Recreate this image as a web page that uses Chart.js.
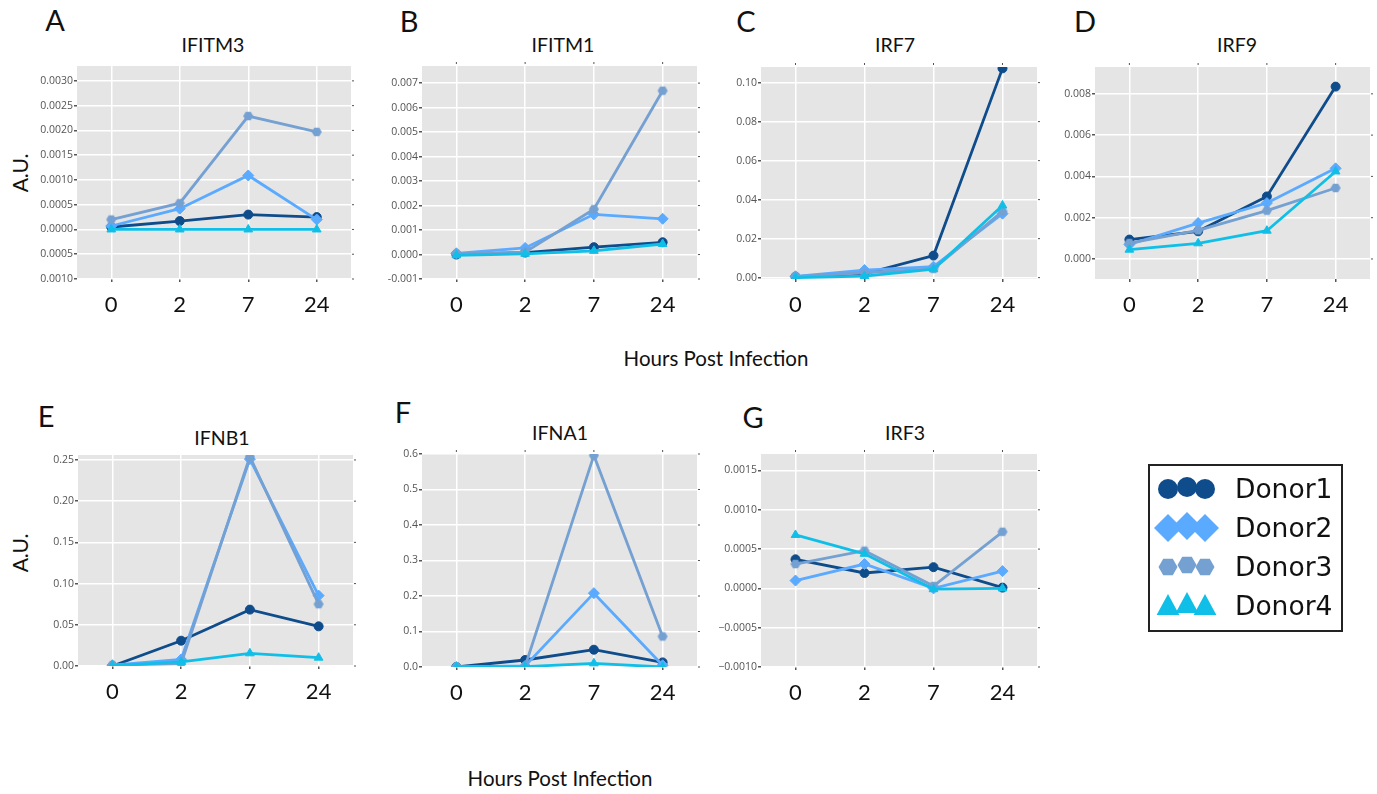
<!DOCTYPE html>
<html>
<head>
<meta charset="utf-8">
<script src="https://cdn.jsdelivr.net/npm/chart.js@4/dist/chart.umd.min.js"></script>
<style>
  body { margin: 0; background: #fff; width: 1377px; height: 794px; position: relative; overflow: hidden; font-family: Lato, "Open Sans", sans-serif; color: #111; }
  .t { position: absolute; white-space: nowrap; transform: translate(-50%, -50%); line-height: 1; }
  .letter { font-size: 29px; }
  .title { font-size: 19.5px; }
  .au { font-size: 21px; transform: translate(-50%, -50%) rotate(-90deg); }
  .xlab { font-size: 20.5px; }
  canvas.panel { position: absolute; }
  #legend { position: absolute; left: 1148px; top: 464px; width: 195px; height: 168px; box-sizing: border-box; border: 2px solid #222; }
  .leg { position: absolute; left: 1235px; font-family: "DejaVu Sans", sans-serif; font-size: 26.5px; transform: translateY(-50%); line-height: 1; }
</style>
</head>
<body>
<div class="t letter" style="left:55px;top:19px">A</div>
<div class="t letter" style="left:409px;top:20px">B</div>
<div class="t letter" style="left:746px;top:20px">C</div>
<div class="t letter" style="left:1085px;top:20px">D</div>
<div class="t letter" style="left:46px;top:415px">E</div>
<div class="t letter" style="left:403px;top:411px">F</div>
<div class="t letter" style="left:753px;top:416px">G</div>

<div class="t title" style="left:213px;top:45px">IFITM3</div>
<div class="t title" style="left:563px;top:45px">IFITM1</div>
<div class="t title" style="left:895px;top:45px">IRF7</div>
<div class="t title" style="left:1237px;top:45px">IRF9</div>
<div class="t title" style="left:222px;top:438px">IFNB1</div>
<div class="t title" style="left:560px;top:433px">IFNA1</div>
<div class="t title" style="left:905px;top:433px">IRF3</div>

<div class="t au" style="left:19px;top:173px">A.U.</div>
<div class="t au" style="left:19px;top:553px">A.U.</div>

<div class="t xlab" style="left:716px;top:358px">Hours Post Infection</div>
<div class="t xlab" style="left:560px;top:778px">Hours Post Infection</div>

<canvas id="pA" class="panel"></canvas>
<canvas id="pB" class="panel"></canvas>
<canvas id="pC" class="panel"></canvas>
<canvas id="pD" class="panel"></canvas>
<canvas id="pE" class="panel"></canvas>
<canvas id="pF" class="panel"></canvas>
<canvas id="pG" class="panel"></canvas>

<div id="legend"></div>
<canvas id="legMarks" style="position:absolute;left:1148px;top:464px" width="90" height="168"></canvas>
<div class="leg" style="top:489px">Donor1</div>
<div class="leg" style="top:528px">Donor2</div>
<div class="leg" style="top:567px">Donor3</div>
<div class="leg" style="top:606px">Donor4</div>

<script>
const hours = ["0", "2", "7", "24"];
const donors = ["Donor1", "Donor2", "Donor3", "Donor4"];
const donorColors = ["#0f4c8b", "#5aaaff", "#74a0d2", "#10bfe8"];

// one row per donor: values at 0, 2, 7, 24 h
const IFITM3 = [
  [0.00005, 0.00017, 0.0003, 0.00025],
  [0.00007, 0.00042, 0.00109, 0.0002],
  [0.0002, 0.00053, 0.00229, 0.00197],
  [0.0, 0.0, 0.0, 0.0],
];
const IFITM1 = [
  [0.0, 0.00008, 0.0003, 0.0005],
  [0.00005, 0.00027, 0.00164, 0.00146],
  [0.00003, 0.0001, 0.00185, 0.00669],
  [-0.00003, 0.00003, 0.00015, 0.00043],
];
const IRF7 = [
  [0.0005, 0.002, 0.0113, 0.1073],
  [0.0007, 0.0039, 0.0056, 0.0328],
  [0.0005, 0.0025, 0.0045, 0.034],
  [0.0, 0.0008, 0.0043, 0.037],
];
const IRF9 = [
  [0.00094, 0.00134, 0.00303, 0.00835],
  [0.0007, 0.00174, 0.00271, 0.00439],
  [0.00077, 0.00139, 0.00234, 0.00344],
  [0.00045, 0.00076, 0.00137, 0.00424],
];
const IFNB1 = [
  [0.0, 0.0307, 0.0684, 0.0481],
  [0.001, 0.008, 0.251, 0.0854],
  [0.001, 0.003, 0.254, 0.075],
  [0.0005, 0.005, 0.0154, 0.0101],
];
const IFNA1 = [
  [0.0, 0.0197, 0.0487, 0.013],
  [0.0, 0.003, 0.208, 0.005],
  [0.0, 0.002, 0.596, 0.086],
  [0.0, 0.001, 0.0103, 0.0],
];
const IRF3 = [
  [0.00037, 0.000196, 0.00027, 0.00001],
  [0.0001, 0.00031, 0.0, 0.00022],
  [0.00031, 0.00048, 0.00003, 0.00072],
  [0.00068, 0.00044, -0.00001, 0.0],
];

function hexagon(r, color) {
  const c = document.createElement("canvas");
  c.width = c.height = 2 * r + 2;
  const g = c.getContext("2d");
  g.fillStyle = color;
  g.beginPath();
  for (let k = 0; k < 6; k++) {
    const a = (Math.PI / 3) * k;
    g.lineTo(r + 1 + r * Math.cos(a), r + 1 + r * Math.sin(a));
  }
  g.closePath();
  g.fill();
  return c;
}

const pointStyles = ["circle", "rectRot", hexagon(5, donorColors[2]), "triangle"];
const pointRadii = [4.5, 5.5, 5, 5];

// grey plot background
const plotBg = {
  id: "plotBg",
  beforeDraw(chart) {
    const { ctx, chartArea: a } = chart;
    ctx.save();
    ctx.fillStyle = "#e5e5e5";
    ctx.fillRect(a.left, a.top, a.right - a.left, a.bottom - a.top);
    ctx.restore();
  },
};

// little tick marks on the right (and sometimes top) edge
const mirrorTicks = {
  id: "mirrorTicks",
  afterDraw(chart, args, opts) {
    const { ctx, chartArea: a, scales } = chart;
    ctx.save();
    ctx.strokeStyle = "#555";
    ctx.lineWidth = 1;
    scales.y.ticks.forEach((t) => {
      const py = scales.y.getPixelForValue(t.value);
      ctx.beginPath();
      ctx.moveTo(a.right + 1, py);
      ctx.lineTo(a.right + 3, py);
      ctx.stroke();
    });
    if (opts.top) {
      scales.x.ticks.forEach((t, i) => {
        const px = scales.x.getPixelForTick(i);
        ctx.beginPath();
        ctx.moveTo(px, a.top - 4);
        ctx.lineTo(px, a.top - 2);
        ctx.stroke();
      });
    }
    ctx.restore();
  },
};

const AXIS_W = 72;
const AXIS_H = 48;
const PAD_T = 9;
const PAD_R = 12;

function drawPanel(id, box, rows, yMin, yMax, yStep, fmt, topTicks) {
  const canvas = document.getElementById(id);
  const w = box.right - box.left;
  const h = box.bottom - box.top;
  canvas.style.left = box.left - AXIS_W + "px";
  canvas.style.top = box.top - PAD_T + "px";
  canvas.width = w + AXIS_W + PAD_R;
  canvas.height = h + PAD_T + AXIS_H;

  new Chart(canvas, {
    type: "line",
    data: {
      labels: hours,
      datasets: rows.map((vals, i) => ({
        label: donors[i],
        data: vals,
        borderColor: donorColors[i],
        backgroundColor: donorColors[i],
        borderWidth: 2.8,
        tension: 0,
        pointStyle: pointStyles[i],
        pointRadius: pointRadii[i],
        pointBorderWidth: 1,
        order: 4 - i,
      })),
    },
    options: {
      responsive: false,
      animation: false,
      devicePixelRatio: 1,
      layout: { padding: { top: PAD_T, right: PAD_R, left: 0, bottom: 0 } },
      plugins: {
        legend: { display: false },
        tooltip: { enabled: false },
        mirrorTicks: { top: topTicks },
      },
      scales: {
        x: {
          offset: true,
          border: { display: false },
          grid: { color: "#fff", lineWidth: 1.5, tickColor: "#555", tickLength: 3 },
          ticks: { color: "#111", padding: 10, font: { family: "Lato", size: 22 } },
          afterFit(s) { s.height = AXIS_H; },
        },
        y: {
          min: yMin,
          max: yMax,
          border: { display: false },
          grid: { color: "#fff", lineWidth: 1.5, tickColor: "#555", tickLength: 3 },
          ticks: {
            stepSize: yStep,
            includeBounds: false,
            color: "#555",
            padding: 1,
            font: { family: "Open Sans", size: 10.5 },
            callback: fmt,
          },
          afterFit(s) { s.width = AXIS_W; },
        },
      },
    },
    plugins: [plotBg, mirrorTicks],
  });
}

// label formats as printed in each panel
const absFmt = (d) => (v) => Math.abs(v).toFixed(d);
const hyphenFmt = (d) => (v) => (v < -1e-12 ? "-" : "") + Math.abs(v).toFixed(d);
const minusFmt = (d) => (v) => (v < -1e-12 ? "\u2212" : "") + Math.abs(v).toFixed(d);

drawPanel("pA", { left: 77, right: 351, top: 66, bottom: 279 }, IFITM3, -0.001, 0.0033, 0.0005, absFmt(4), false);
drawPanel("pB", { left: 422, right: 697, top: 66, bottom: 279 }, IFITM1, -0.001, 0.0077, 0.001, hyphenFmt(3), true);
drawPanel("pC", { left: 761, right: 1037, top: 67, bottom: 279 }, IRF7, -0.0007, 0.108, 0.02, hyphenFmt(2), true);
drawPanel("pD", { left: 1095, right: 1370, top: 67, bottom: 279 }, IRF9, -0.00097, 0.0093, 0.002, hyphenFmt(3), true);
drawPanel("pE", { left: 78, right: 353, top: 455, bottom: 666 }, IFNB1, 0, 0.256, 0.05, hyphenFmt(2), false);
drawPanel("pF", { left: 422, right: 697, top: 454, bottom: 667 }, IFNA1, 0, 0.6, 0.1, hyphenFmt(1), true);
drawPanel("pG", { left: 761, right: 1037, top: 454, bottom: 667 }, IRF3, -0.001, 0.00171, 0.0005, minusFmt(4), true);

// legend glyphs
const lg = document.getElementById("legMarks").getContext("2d");
const xs = [20, 39, 57];
const lift = [0, -2, 0];
function glyph(kind, cx, cy, r, color) {
  lg.fillStyle = color;
  lg.beginPath();
  if (kind === "circle") {
    lg.arc(cx, cy, r, 0, Math.PI * 2);
  } else if (kind === "diamond") {
    lg.moveTo(cx, cy - r); lg.lineTo(cx + r, cy); lg.lineTo(cx, cy + r); lg.lineTo(cx - r, cy);
  } else if (kind === "hex") {
    for (let k = 0; k < 6; k++) {
      const a = (Math.PI / 3) * k;
      lg.lineTo(cx + r * Math.cos(a), cy + r * Math.sin(a));
    }
  } else {
    lg.moveTo(cx, cy - r); lg.lineTo(cx + r * 0.95, cy + r * 0.75); lg.lineTo(cx - r * 0.95, cy + r * 0.75);
  }
  lg.closePath();
  lg.fill();
}
const kinds = ["circle", "diamond", "hex", "triangle"];
const sizes = [10, 14, 9.5, 12];
const rowY = [25, 64, 103, 142];
kinds.forEach((k, r) => {
  xs.forEach((x, i) => glyph(k, x, rowY[r] + lift[i], sizes[r], donorColors[r]));
});
</script>
</body>
</html>
